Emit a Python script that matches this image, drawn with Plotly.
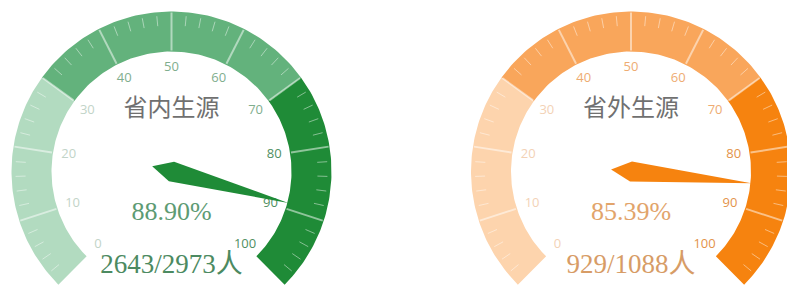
import numpy as np
import plotly.graph_objects as go

# ---------------- data ----------------
gauge_names = ["省内生源", "省外生源"]
gauge_values = [88.90, 85.39]
admitted_counts = [2643, 929]
total_counts = [2973, 1088]
tick_values = [0, 10, 20, 30, 40, 50, 60, 70, 80, 90, 100]
tick_labels = ["0", "10", "20", "30", "40", "50", "60", "70", "80", "90", "100"]
band_stops = [30, 70, 100]

# ---------------- style ----------------
band_colors = [
    ["#b2dbc0", "#63b27c", "#1f8b37"],
    ["#fdd4ad", "#f9a65b", "#f6830f"],
]
label_colors = [
    ["#c2d4c8", "#7fae8e", "#4f8f62"],
    ["#f3d2b6", "#eeac72", "#e3934a"],
]
value_colors = ["#5d9b73", "#e2a46b"]
detail_colors = ["#4c8a61", "#d79c66"]
title_color = "#707070"

W, H = 787, 286
centers_x = [171.5, 631.0]
center_y = 171.5
R_OUT, R_IN = 160.0, 120.0
R_LABEL = 104.0
NEEDLE_LEN = 121.0
NEEDLE_W = 10.0


def ang(v):
    return np.deg2rad(225.0 - 270.0 * v / 100.0)


def pt(cx, r, v):
    a = ang(v)
    return cx + r * np.cos(a), center_y - r * np.sin(a)


fig = go.Figure()

for g in range(2):
    cx = centers_x[g]
    # bands
    start = 0
    for bi, stop in enumerate(band_stops):
        vs = np.linspace(start, stop, 80)
        xo, yo = pt(cx, R_OUT, vs)
        xi, yi = pt(cx, R_IN, vs[::-1])
        xs = np.concatenate([xo, xi, xo[:1]])
        ys = np.concatenate([yo, yi, yo[:1]])
        fig.add_trace(go.Scatter(x=xs, y=ys, fill="toself", mode="lines",
                                 line=dict(width=0, color=band_colors[g][bi]),
                                 fillcolor=band_colors[g][bi], hoverinfo="skip",
                                 showlegend=False))
        start = stop
    # minor ticks
    mx, my = [], []
    for v in np.arange(0, 100.01, 2):
        if abs(v / 10 - round(v / 10)) < 1e-6:
            continue
        x1, y1 = pt(cx, R_OUT - 4, v)
        x2, y2 = pt(cx, R_OUT - 14, v)
        mx += [x1, x2, None]
        my += [y1, y2, None]
    fig.add_trace(go.Scatter(x=mx, y=my, mode="lines",
                             line=dict(width=1, color="rgba(255,255,255,0.45)"),
                             hoverinfo="skip", showlegend=False))
    # split lines
    sx, sy = [], []
    for v in tick_values[1:-1]:
        x1, y1 = pt(cx, R_OUT - 1, v)
        x2, y2 = pt(cx, R_IN + 1, v)
        sx += [x1, x2, None]
        sy += [y1, y2, None]
    fig.add_trace(go.Scatter(x=sx, y=sy, mode="lines",
                             line=dict(width=2, color="rgba(255,255,255,0.5)"),
                             hoverinfo="skip", showlegend=False))
    # tick labels
    lx, ly = pt(cx, R_LABEL, np.array(tick_values, dtype=float))
    lcols = []
    for v in tick_values:
        bi = 0 if v <= band_stops[0] else (1 if v <= band_stops[1] else 2)
        lcols.append(label_colors[g][bi])
    fig.add_trace(go.Scatter(x=lx, y=ly, mode="text", text=tick_labels,
                             textposition="middle center",
                             textfont=dict(size=13, color=lcols, family="Open Sans"),
                             hoverinfo="skip", showlegend=False))
    # needle
    val = gauge_values[g]
    a = ang(val)
    ap = a - np.pi / 2
    cxp, cyp = cx, center_y
    tail = (cxp - np.cos(a) * NEEDLE_W * 2, cyp + np.sin(a) * NEEDLE_W * 2)
    s1 = (cxp + np.cos(ap) * NEEDLE_W, cyp - np.sin(ap) * NEEDLE_W)
    tip = (cxp + np.cos(a) * NEEDLE_LEN, cyp - np.sin(a) * NEEDLE_LEN)
    s2 = (cxp - np.cos(ap) * NEEDLE_W, cyp + np.sin(ap) * NEEDLE_W)
    nbi = 0 if val <= band_stops[0] else (1 if val <= band_stops[1] else 2)
    fig.add_trace(go.Scatter(x=[tail[0], s1[0], tip[0], s2[0], tail[0]],
                             y=[tail[1], s1[1], tip[1], s2[1], tail[1]],
                             fill="toself", mode="lines",
                             line=dict(width=0, color=band_colors[g][nbi]),
                             fillcolor=band_colors[g][nbi], hoverinfo="skip",
                             showlegend=False))
    # title
    fig.add_trace(go.Scatter(x=[cx], y=[center_y - 62], mode="text",
                             text=[gauge_names[g]], textposition="middle center",
                             textfont=dict(size=24, color=title_color,
                                           family="Noto Sans CJK SC"),
                             hoverinfo="skip", showlegend=False))
    # value
    fig.add_trace(go.Scatter(x=[cx], y=[center_y + 42], mode="text",
                             text=[f"{val:.2f}%"], textposition="middle center",
                             textfont=dict(size=26, color=value_colors[g],
                                           family="Liberation Serif"),
                             hoverinfo="skip", showlegend=False))
    # detail
    fig.add_trace(go.Scatter(x=[cx], y=[center_y + 95], mode="text",
                             text=[f"{admitted_counts[g]}/{total_counts[g]}人"],
                             textposition="middle center",
                             textfont=dict(size=27, color=detail_colors[g],
                                           family="Liberation Serif, Noto Sans CJK SC"),
                             hoverinfo="skip", showlegend=False))

fig.update_layout(
    width=W, height=H,
    margin=dict(l=0, r=0, t=0, b=0),
    paper_bgcolor="white", plot_bgcolor="white",
    xaxis=dict(range=[0, W], visible=False, fixedrange=True),
    yaxis=dict(range=[H, 0], visible=False, fixedrange=True),
    showlegend=False,
)

fig.write_html("out.html", config={"displayModeBar": False},
               post_script="document.body.style.margin='0';document.body.style.overflow='hidden';")
